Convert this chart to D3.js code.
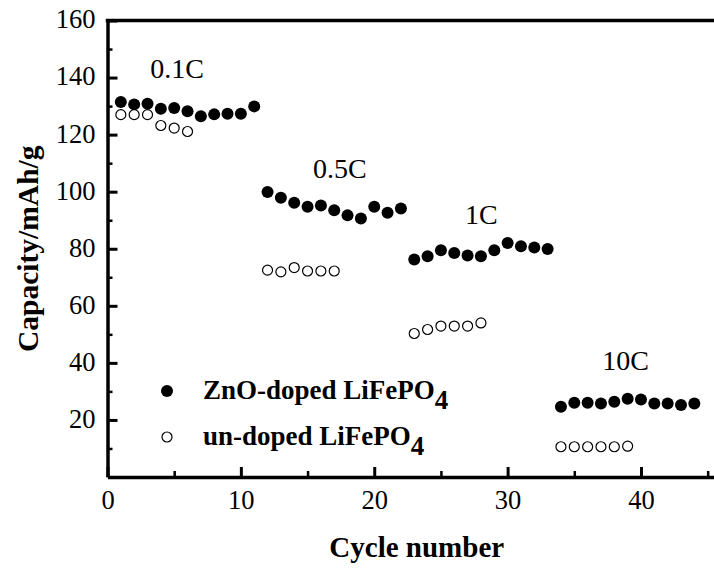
<!DOCTYPE html>
<html>
<head>
<meta charset="utf-8">
<script src="https://cdn.jsdelivr.net/npm/d3@7"></script>
<style>
  html, body { margin: 0; padding: 0; background: #fff; }
  svg { display: block; }
  text { font-family: "Liberation Serif", "Times New Roman", serif; fill: #000; }
</style>
</head>
<body>
<svg id="chart" width="714" height="574"></svg>
<script>
// Rate-capability data: discharge capacity (mAh/g) per cycle
const dopedCycle = [1,2,3,4,5,6,7,8,9,10,11,
                    12,13,14,15,16,17,18,19,20,21,22,
                    23,24,25,26,27,28,29,30,31,32,33,
                    34,35,36,37,38,39,40,41,42,43,44];
const dopedCapacity = [131.4,130.6,130.8,129.1,129.3,128.2,126.4,127.1,127.3,127.3,129.9,
                       99.9,97.9,96.1,94.7,95.2,93.5,91.7,90.6,94.7,92.6,94.1,
                       76.2,77.4,79.5,78.5,77.6,77.4,79.5,82.0,80.9,80.4,79.9,
                       24.6,26.0,26.0,25.8,26.4,27.4,27.2,25.8,25.8,25.2,25.8];

const undopedCycle = [1,2,3,4,5,6,
                      12,13,14,15,16,17,
                      23,24,25,26,27,28,
                      34,35,36,37,38,39];
const undopedCapacity = [127.0,127.0,127.0,123.2,122.3,121.1,
                         72.5,71.9,73.4,72.2,72.2,72.2,
                         50.3,51.7,52.9,52.9,52.9,54.0,
                         10.6,10.6,10.6,10.6,10.6,10.8];

const rateLabels = ["0.1C", "0.5C", "1C", "10C"];
const rateLabelCycle = [3.2, 15.4, 26.8, 37.1];
const rateLabelCapacity = [139.7, 104.7, 88.6, 37.5];

const xMajorTicks = [0, 10, 20, 30, 40];
const xMinorTicks = [5, 15, 25, 35, 45];
const yMajorTicks = [20, 40, 60, 80, 100, 120, 140, 160];
const yMinorTicks = [10, 30, 50, 70, 90, 110, 130, 150];

const serif = '"Liberation Serif", "Times New Roman", serif';
const svg = d3.select("#chart");
const plotLeft = 107.5, plotTop = 20.5, plotBottom = 477, plotRight = 721;

const x = d3.scaleLinear().domain([0, 46]).range([plotLeft, plotRight]);
const y = d3.scaleLinear().domain([0, 160]).range([plotBottom, plotTop]);

const fontTick = 26.5;

// Minor ticks (inward, short, unlabelled)
svg.append("g")
  .attr("transform", `translate(0,${plotBottom})`)
  .call(d3.axisBottom(x).tickValues(xMinorTicks).tickSize(-6).tickFormat(""))
  .call(g => g.select(".domain").remove())
  .call(g => g.selectAll("line").attr("stroke-width", 2.5));
svg.append("g")
  .attr("transform", `translate(${plotLeft},0)`)
  .call(d3.axisLeft(y).tickValues(yMinorTicks).tickSize(-5).tickFormat(""))
  .call(g => g.select(".domain").remove())
  .call(g => g.selectAll("line").attr("stroke-width", 2.5));

// Major x axis
svg.append("g")
  .attr("transform", `translate(0,${plotBottom})`)
  .call(d3.axisBottom(x).tickValues(xMajorTicks).tickSize(-10).tickPadding(13).tickSizeOuter(0))
  .call(g => g.attr("font-family", null).attr("font-size", null))
  .call(g => g.select(".domain").attr("stroke-width", 3.5))
  .call(g => g.selectAll("line").attr("stroke-width", 3))
  .call(g => g.selectAll("text")
    .style("font-family", serif)
    .style("font-size", fontTick + "px").attr("dy", "0.71em"));

// Major y axis
svg.append("g")
  .attr("transform", `translate(${plotLeft},0)`)
  .call(d3.axisLeft(y).tickValues(yMajorTicks).tickSize(-10).tickPadding(12).tickSizeOuter(0))
  .call(g => g.attr("font-family", null).attr("font-size", null))
  .call(g => g.select(".domain").attr("stroke-width", 3.5))
  .call(g => g.selectAll("line").attr("stroke-width", 3))
  .call(g => g.selectAll("text")
    .style("font-family", serif)
    .style("font-size", fontTick + "px").attr("dy", "0.28em"));

// Top frame line
svg.append("line")
  .attr("x1", plotLeft - 1.75).attr("x2", 714)
  .attr("y1", y(160)).attr("y2", y(160))
  .attr("stroke", "#000").attr("stroke-width", 3.5);

// Axis titles
svg.append("text")
  .attr("x", (x(0) + 714) / 2 + 6).attr("y", 557)
  .attr("text-anchor", "middle")
  .attr("font-weight", "bold").attr("font-size", 29)
  .text("Cycle number");

svg.append("text")
  .attr("transform", `translate(38,${(y(0) + y(160)) / 2}) rotate(-90)`)
  .attr("text-anchor", "middle")
  .attr("font-weight", "bold").attr("font-size", 29.5)
  .text("Capacity/mAh/g");

// Data points
svg.append("g").selectAll("circle")
  .data(dopedCycle.map((c, i) => [c, dopedCapacity[i]]))
  .join("circle")
  .attr("cx", d => x(d[0])).attr("cy", d => y(d[1]))
  .attr("r", 6).attr("fill", "#000");

svg.append("g").selectAll("circle")
  .data(undopedCycle.map((c, i) => [c, undopedCapacity[i]]))
  .join("circle")
  .attr("cx", d => x(d[0])).attr("cy", d => y(d[1]))
  .attr("r", 5).attr("fill", "#fff").attr("stroke", "#000").attr("stroke-width", 1.2);

// C-rate annotations
svg.append("g").selectAll("text")
  .data(rateLabels.map((t, i) => ({ t, c: rateLabelCycle[i], v: rateLabelCapacity[i] })))
  .join("text")
  .attr("x", d => x(d.c)).attr("y", d => y(d.v))
  .attr("font-size", 28)
  .text(d => d.t);

// Legend
const legendItems = [
  { name: "ZnO-doped LiFePO", filled: true },
  { name: "un-doped LiFePO", filled: false }
];
const legend = svg.append("g");
legendItems.forEach((item, i) => {
  const cy = 391 + i * 46;
  legend.append("circle")
    .attr("cx", 167).attr("cy", cy)
    .attr("r", item.filled ? 6 : 5)
    .attr("fill", item.filled ? "#000" : "#fff")
    .attr("stroke", "#000").attr("stroke-width", item.filled ? 0 : 1.2);
  const t = legend.append("text")
    .attr("x", 203).attr("y", cy + 7.5)
    .attr("font-weight", "bold").attr("font-size", 27);
  t.append("tspan").text(item.name);
  t.append("tspan").attr("dy", 10).attr("font-size", 27).text("4");
});
</script>
</body>
</html>
